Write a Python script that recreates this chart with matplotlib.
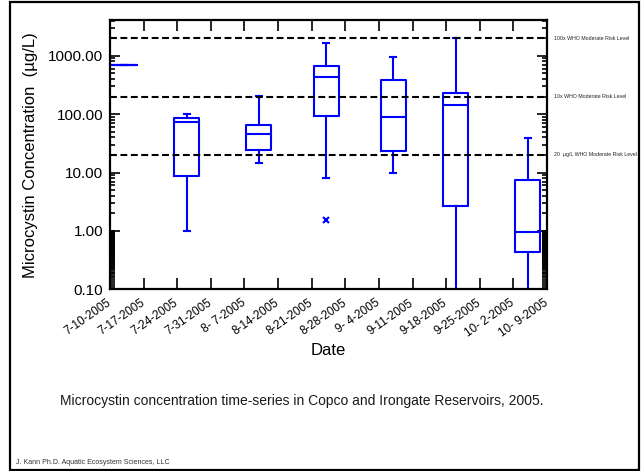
import datetime as dt
import numpy as np
import matplotlib
matplotlib.use('Agg')
import matplotlib.pyplot as plt
import matplotlib.dates as mdates
import matplotlib.transforms as mtrans
from matplotlib.patches import Rectangle
from matplotlib.ticker import FixedLocator, FixedFormatter, NullFormatter

plt.rcParams['font.family'] = ['Liberation Sans', 'DejaVu Sans']

# box centres (sampling weeks) and box statistics, ug/L
dates = ['2005-07-13', '2005-07-26', '2005-08-10', '2005-08-24',
         '2005-09-07', '2005-09-20', '2005-10-05']
whis_lo = [682, 1.0, 14.6, 8.0, 9.7, 0.05, 0.05]
q1 = [682, 8.6, 24.6, 94, 23.7, 2.7, 0.44]
med = [682, 73, 46, 436, 88, 143, 0.96]
q3 = [682, 87, 66, 656, 378, 230, 7.5]
whis_hi = [682, 100, 201, 1626, 961, 2030, 38.5]
outliers = [[], [], [], [1.52], [], [], []]

# WHO reference levels
who_levels = [2000, 200, 20]
who_labels = ['100x WHO Moderate Risk Level',
              '10x WHO Moderate Risk Level',
              '20  \u00b5g/L WHO Moderate Risk Level']

start = dt.date(2005, 7, 10)
end = dt.date(2005, 10, 9)
tick_days = [start + dt.timedelta(days=7 * i) for i in range(14)]
tick_labels = [f"{d.month}-{d.day:2d}-{d.year}" for d in tick_days]

blue = '#0000ff'

fig = plt.figure(figsize=(6.44, 4.71), dpi=100)
ax = fig.add_axes([110 / 644, (471 - 289.3) / 471, 437 / 644, 269.3 / 471])

stats = []
for i in range(len(dates)):
    stats.append(dict(med=med[i], q1=q1[i], q3=q3[i], whislo=whis_lo[i],
                      whishi=whis_hi[i], fliers=outliers[i]))
pos = [mdates.date2num(dt.datetime.strptime(d, '%Y-%m-%d')) for d in dates]
lp = dict(color=blue, linewidth=1.5)
ax.bxp(stats, positions=pos, widths=5.2, capwidths=1.3, manage_ticks=False,
       boxprops=lp, whiskerprops=lp, capprops=lp, medianprops=lp,
       flierprops=dict(marker='x', markeredgecolor=blue, markersize=4,
                       markeredgewidth=1.5))

for lev in who_levels:
    ax.axhline(lev, color='black', linewidth=1.5, dashes=(3.3, 1.7))

ax.set_yscale('log')
ax.set_ylim(0.1, 4100)
ax.set_xlim(mdates.date2num(start), mdates.date2num(end))

ax.yaxis.set_major_locator(FixedLocator([0.1, 1, 10, 100, 1000]))
ax.yaxis.set_major_formatter(FixedFormatter(['0.10', '1.00', '10.00', '100.00', '1000.00']))
minors = [k * 10 ** e for e in range(0, 4) for k in range(2, 10)]
minors += list(np.arange(0.11, 1.0, 0.01))
ax.yaxis.set_minor_locator(FixedLocator(minors))
ax.yaxis.set_minor_formatter(NullFormatter())

ax.xaxis.set_major_locator(FixedLocator([mdates.date2num(d) for d in tick_days]))
ax.xaxis.set_major_formatter(FixedFormatter(tick_labels))

ax.tick_params(axis='both', which='both', direction='in', top=True, right=True,
               width=1.2, colors='black')
ax.tick_params(axis='y', which='major', length=7, labelsize=11, pad=5)
ax.tick_params(axis='y', which='minor', length=3.5)
ax.tick_params(axis='x', which='major', length=8, labelsize=8.5, pad=9)
for lab in ax.get_xticklabels():
    lab.set_rotation(35)
    lab.set_ha('right')
    lab.set_va('center')
    lab.set_rotation_mode('anchor')

for s in ax.spines.values():
    s.set_linewidth(1.6)

ax.set_ylabel('Microcystin Concentration  (\u00b5g/L)', fontsize=12)
ax.yaxis.set_label_coords(-0.165, 0.5)
ax.set_xlabel('Date', fontsize=12)
ax.xaxis.set_label_coords(0.5, -0.2)

border = Rectangle((10 / 644, 1 / 471), 628.5 / 644, 468.5 / 471,
                   transform=fig.transFigure, fill=False, edgecolor='black',
                   linewidth=1.6)
fig.patches.append(border)

tr = mtrans.blended_transform_factory(fig.transFigure, ax.transData)
for lev, lab in zip(who_levels, who_labels):
    fig.text(554 / 644, lev, lab, transform=tr, fontsize=3.8,
             va='center', ha='left', color='#222222')

fig.text(60 / 644, 1 - 401 / 471,
         'Microcystin concentration time-series in Copco and Irongate Reservoirs, 2005.',
         fontsize=10, va='center', ha='left', color='#1a1a1a')
fig.text(16 / 644, 1 - 462.7 / 471, 'J. Kann Ph.D. Aquatic Ecosystem Sciences, LLC',
         fontsize=5, va='center', ha='left', color='#333333')

fig.savefig('out.png', dpi=100)
